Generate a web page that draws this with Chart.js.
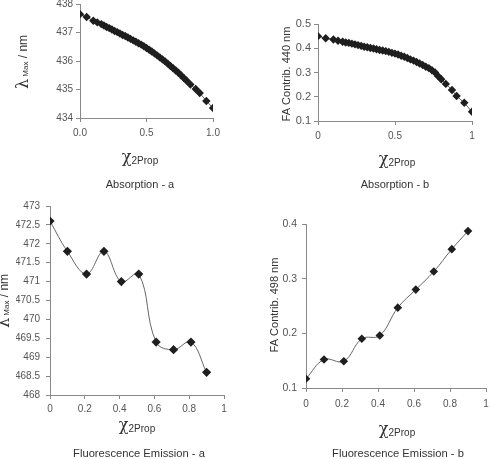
<!DOCTYPE html>
<html><head><meta charset="utf-8">
<script src="https://cdn.jsdelivr.net/npm/chart.js@4"></script>
<style>
html,body{margin:0;padding:0;background:#fff;}
#wrap{position:relative;width:491px;height:459px;overflow:hidden;}
#wrap canvas{position:absolute;left:0;top:0;}
</style></head>
<body><div id="wrap">
<canvas id="ca" width="491" height="459"></canvas>
<canvas id="cb" width="491" height="459"></canvas>
<canvas id="cc" width="491" height="459"></canvas>
<canvas id="cd" width="491" height="459"></canvas>
</div>
<script>
// ---- data ----
const absX = [0,0.05,0.1,0.13,0.16,0.18,0.2,0.22,0.24,0.26,0.28,0.3,0.32,0.34,0.36,0.38,0.4,0.42,0.44,0.46,0.48,0.5,0.52,0.54,0.56,0.58,0.6,0.62,0.64,0.66,0.68,0.7,0.72,0.74,0.76,0.78,0.8,0.83,0.87,0.9,0.95,1.0];
const absA = [437.65,437.55,437.42,437.36,437.3,437.25,437.2,437.16,437.11,437.06,437.02,436.97,436.92,436.88,436.83,436.78,436.73,436.68,436.63,436.58,436.52,436.46,436.4,436.34,436.27,436.2,436.13,436.06,435.99,435.91,435.83,435.75,435.67,435.59,435.5,435.41,435.32,435.18,435.02,434.88,434.6,434.35];
const absB = [0.45,0.441,0.436,0.431,0.427,0.424,0.422,0.419,0.416,0.413,0.41,0.406,0.404,0.401,0.399,0.396,0.393,0.391,0.388,0.385,0.381,0.378,0.374,0.369,0.365,0.36,0.354,0.349,0.343,0.337,0.331,0.324,0.318,0.309,0.3,0.285,0.272,0.253,0.228,0.203,0.175,0.138];
const fluX = [0,0.1,0.21,0.31,0.41,0.51,0.61,0.71,0.81,0.9];
const fluA = [472.6,471.8,471.2,471.8,471.0,471.2,469.4,469.2,469.4,468.6];
const fluB = [0.117,0.152,0.149,0.19,0.196,0.247,0.28,0.313,0.354,0.387];

const aXTicks = [0,0.5,1], aXLabels = ['0.0','0.5','1.0'];
const aYTicks = [434,435,436,437,438], aYLabels = ['434','435','436','437','438'];
const bXTicks = [0,0.5,1], bXLabels = ['0','0.5','1'];
const bYTicks = [0.1,0.2,0.3,0.4,0.5], bYLabels = ['0.1','0.2','0.3','0.4','0.5'];
const cXTicks = [0,0.2,0.4,0.6,0.8,1], cXLabels = ['0','0.2','0.4','0.6','0.8','1'];
const cYTicks = [468,468.5,469,469.5,470,470.5,471,471.5,472,472.5,473];
const cYLabels = ['468','468.5','469','469.5','470','470.5','471','471.5','472','472.5','473'];
const dXTicks = [0,0.2,0.4,0.6,0.8,1], dXLabels = ['0','0.2','0.4','0.6','0.8','1'];
const dYTicks = [0.1,0.2,0.3,0.4], dYLabels = ['0.1','0.2','0.3','0.4'];

const FONT = "'Liberation Sans', Arial, sans-serif";
const AXIS = '#8a8a8a', TICKC = '#555', TXT = '#333';

function richPlugin(items){
  return {id:'rich', afterDraw(chart){
    const ctx = chart.ctx;
    items.forEach(it=>{
      ctx.save();
      ctx.translate(it.x, it.y);
      if (it.rot) ctx.rotate(it.rot);
      const ws = it.parts.map(p=>{ctx.font = p.s+'px '+(p.f||FONT); return ctx.measureText(p.t).width;});
      let x = -ws.reduce((a,b)=>a+b,0)/2;
      ctx.textBaseline = 'middle'; ctx.textAlign = 'left';
      ctx.fillStyle = it.c || TXT;
      it.parts.forEach((p,i)=>{ctx.font = p.s+'px '+(p.f||FONT); ctx.fillText(p.t, x, p.dy||0); x += ws[i];});
      ctx.restore();
    });
  }};
}

function makeChart(id, o){
  const pts = o.x.map((v,i)=>({x:v, y:o.y[i]}));
  new Chart(document.getElementById(id), {
    type:'scatter',
    data:{datasets:[{data:pts, showLine:true, tension:o.tension, borderColor:'#666', borderWidth:1,
      pointStyle:'rectRot', pointRadius:o.r, pointBorderWidth:0, pointBackgroundColor:'#1e1e1e', pointBorderColor:'#1e1e1e'}]},
    options:{
      responsive:false, animation:false, devicePixelRatio:1,
      layout:{padding:{left:o.L-34, right:491-o.R, top:o.T, bottom:459-o.B-20}},
      plugins:{legend:{display:false}, tooltip:{enabled:false}},
      scales:{
        x:{type:'linear', min:o.xt[0], max:o.xt[o.xt.length-1],
          afterBuildTicks:s=>{s.ticks = o.xt.map(v=>({value:v}));},
          afterFit:s=>{s.height=20; s.paddingLeft=0; s.paddingRight=0;},
          ticks:{callback:(v,i)=>o.xl[i], color:TICKC, font:{family:FONT,size:o.fx}, padding:o.xpad, maxRotation:0, autoSkip:false},
          grid:{drawOnChartArea:false, drawTicks:true, tickLength:4, color:AXIS},
          border:{color:AXIS, width:1}},
        y:{type:'linear', min:o.yt[0], max:o.yt[o.yt.length-1],
          afterBuildTicks:s=>{s.ticks = o.yt.map(v=>({value:v}));},
          afterFit:s=>{s.width=34; s.paddingTop=0; s.paddingBottom=0;},
          ticks:{callback:(v,i)=>o.yl[i], color:TICKC, font:{family:FONT,size:o.fy}, padding:o.ypad, autoSkip:false},
          grid:{drawOnChartArea:false, drawTicks:true, tickLength:4, color:AXIS},
          border:{color:AXIS, width:1}}
      }
    },
    plugins:[richPlugin(o.texts)]
  });
}

const R90 = -Math.PI/2;
const chi = (x,y)=>({x, y, parts:[{t:'χ', s:16, f:"'DejaVu Serif', serif"},{t:'2Prop', s:10, dy:3}]});
const lam = (x,y)=>({x, y, rot:R90, parts:[{t:'λ', s:16, f:"'DejaVu Serif', serif"},{t:' Max', s:8, dy:2},{t:' / nm', s:12}]});

makeChart('ca', {x:absX, y:absA, tension:0, r:4.2, L:80, R:213, T:4, B:118,
  xt:aXTicks, xl:aXLabels, yt:aYTicks, yl:aYLabels, fx:10, fy:10, xpad:5, ypad:3,
  texts:[lam(24,62), chi(140,158), {x:140,y:185,parts:[{t:'Absorption - a', s:11}]}]});
makeChart('cb', {x:absX, y:absB, tension:0, r:4.2, L:318, R:472, T:24, B:121,
  xt:bXTicks, xl:bXLabels, yt:bYTicks, yl:bYLabels, fx:10, fy:11, xpad:5, ypad:3,
  texts:[{x:287,y:74,rot:R90,parts:[{t:'FA Contrib. 440 nm', s:11}]}, chi(397,160), {x:395,y:185,parts:[{t:'Absorption - b', s:11}]}]});
makeChart('cc', {x:fluX, y:fluA, tension:0.4, r:4.6, L:50, R:224, T:206, B:395,
  xt:cXTicks, xl:cXLabels, yt:cYTicks, yl:cYLabels, fx:10, fy:10, xpad:4, ypad:6,
  texts:[lam(5,301), chi(137,426), {x:139,y:454,parts:[{t:'Fluorescence Emission - a', s:11.2}]}]});
makeChart('cd', {x:fluX, y:fluB, tension:0.4, r:4.3, L:306, R:486, T:224, B:388,
  xt:dXTicks, xl:dXLabels, yt:dYTicks, yl:dYLabels, fx:10, fy:10.5, xpad:6, ypad:5,
  texts:[{x:275,y:305,rot:R90,parts:[{t:'FA Contrib. 498 nm', s:11}]}, chi(397,430), {x:398,y:454,parts:[{t:'Fluorescence Emission - b', s:11.2}]}]});
</script></body></html>
